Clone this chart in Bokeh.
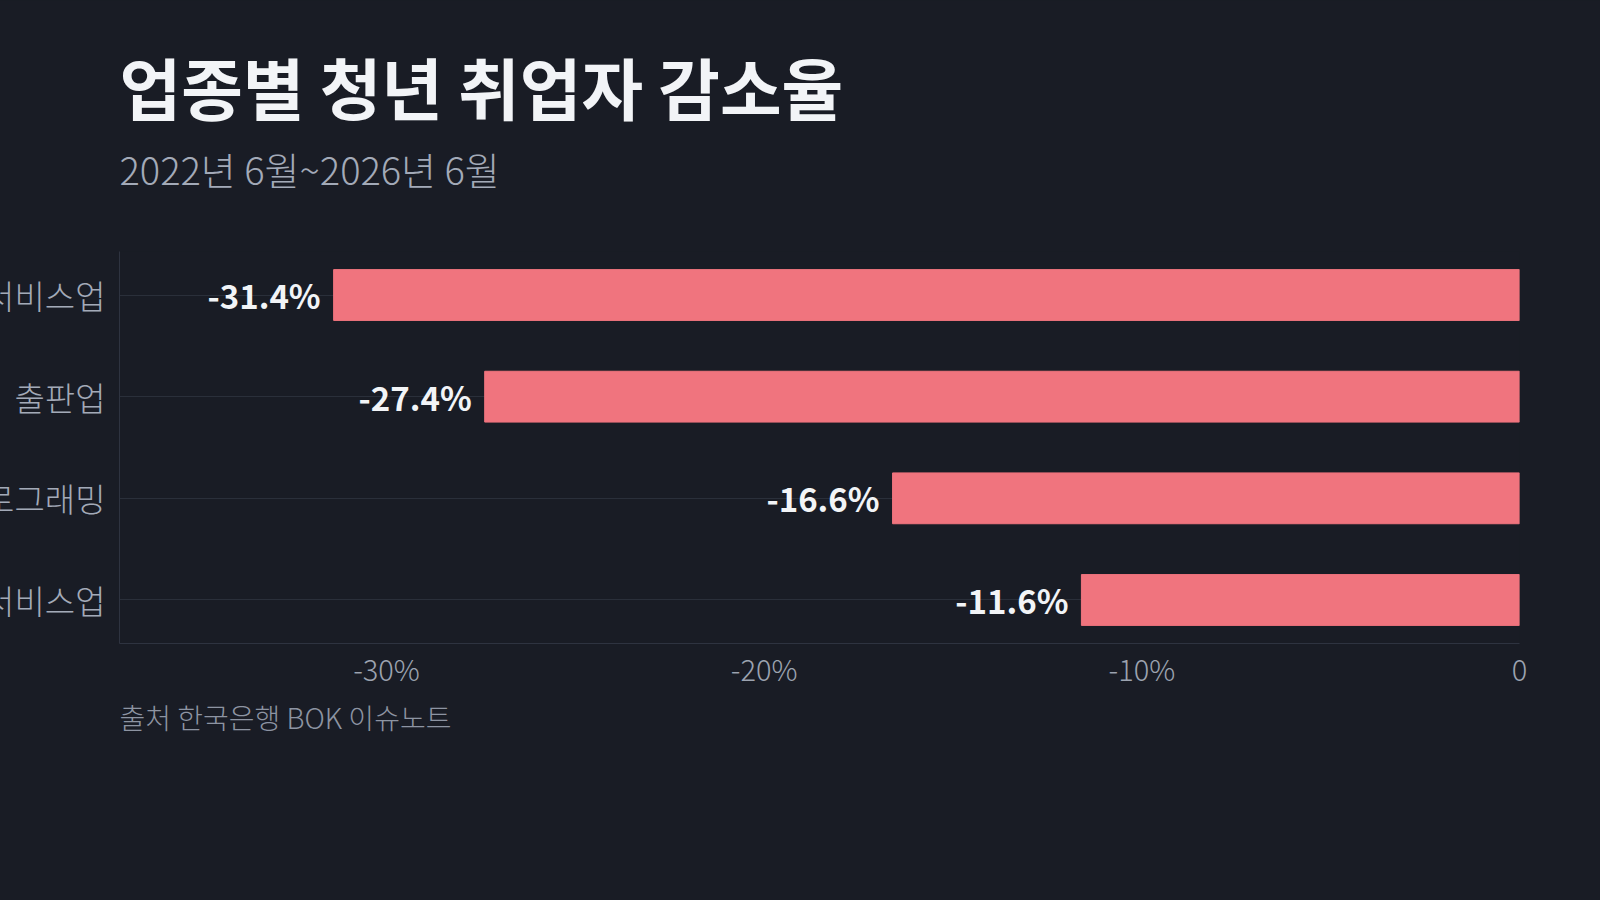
from bokeh.plotting import figure
from bokeh.models import FactorRange, FixedTicker, Title
from bokeh.core.properties import value
from bokeh.embed import file_html
from bokeh.resources import INLINE

# data
categories = ["정보서비스업", "출판업", "컴퓨터 프로그래밍", "전문서비스업"]
change = [-31.4, -27.4, -16.6, -11.6]
tick_values = [-30, -20, -10, 0]
tick_labels = ["-30%", "-20%", "-10%", "0"]

title = "업종별 청년 취업자 감소율"
subtitle = "2022년 6월~2026년 6월"
source = "출처 한국은행 BOK 이슈노트"

bg = "#191c25"
bar_color = "#f0747e"
font = "Noto Sans CJK KR"
light = "'Noto Sans CJK KR Light', 'Noto Sans CJK KR DemiLight', 'Noto Sans CJK KR'"

# the long category names run off the left edge of the page, as in the original:
# the plot is wider than the window and pulled left by `shift`
shift = 211
W, H = 1600 + shift, 900

factors = list(reversed(categories))
p = figure(width=W, height=H, output_backend="svg", toolbar_location=None,
           title_location=None,
           x_range=(-37.07, 0),
           y_range=FactorRange(factors=factors, range_padding=-0.036),
           min_border_left=330, min_border_right=81, min_border_top=251, min_border_bottom=257)
p.styles = {"margin-left": f"-{shift}px"}
p.background_fill_color = bg
p.border_fill_color = bg
p.outline_line_color = None

p.hbar(y=categories, left=change, right=0, height=0.5, color=bar_color)

p.text(x=change, y=categories, text=[f"{v}%" for v in change], x_offset=-13,
       text_align="right", text_baseline="middle", text_color="#f2f4f7",
       text_font=value(font), text_font_style="bold", text_font_size="33px")

p.xgrid.grid_line_color = None
p.ygrid.grid_line_color = "#2a2f3a"
p.ygrid.grid_line_width = 1

p.xaxis.ticker = FixedTicker(ticks=tick_values)
p.xaxis.major_label_overrides = dict(zip(tick_values, tick_labels))
p.xaxis.axis_line_color = "#2e3340"
p.xaxis.major_tick_line_color = None
p.xaxis.minor_tick_line_color = None
p.xaxis.major_tick_out = 0
p.xaxis.major_label_text_color = "#9ca3b0"
p.xaxis.major_label_text_font = light
p.xaxis.major_label_text_font_size = "29px"
p.xaxis.major_label_standoff = 3

p.yaxis.axis_line_color = "#2e3340"
p.yaxis.major_tick_line_color = None
p.yaxis.minor_tick_line_color = None
p.yaxis.major_tick_out = 0
p.yaxis.major_label_text_color = "#a3aab8"
p.yaxis.major_label_text_font = light
p.yaxis.major_label_text_font_size = "33px"
p.yaxis.major_label_standoff = 14

# first added sits nearest the plot
p.add_layout(Title(text=subtitle, align="left", standoff=112, text_color="#a3aab8",
                   text_font=light, text_font_style="normal", text_font_size="38px"), "above")
p.add_layout(Title(text=title, align="left", standoff=-103, text_color="#f2f4f7",
                   text_font=font, text_font_style="bold", text_font_size="67px"), "above")
p.add_layout(Title(text=source, align="left", standoff=6, text_color="#8d94a2",
                   text_font=light, text_font_style="normal", text_font_size="28px"), "below")

html = file_html(p, INLINE)
html = html.replace("</head>", "<style>body{background:%s;}</style></head>" % bg)
open("out.html", "w").write(html)
